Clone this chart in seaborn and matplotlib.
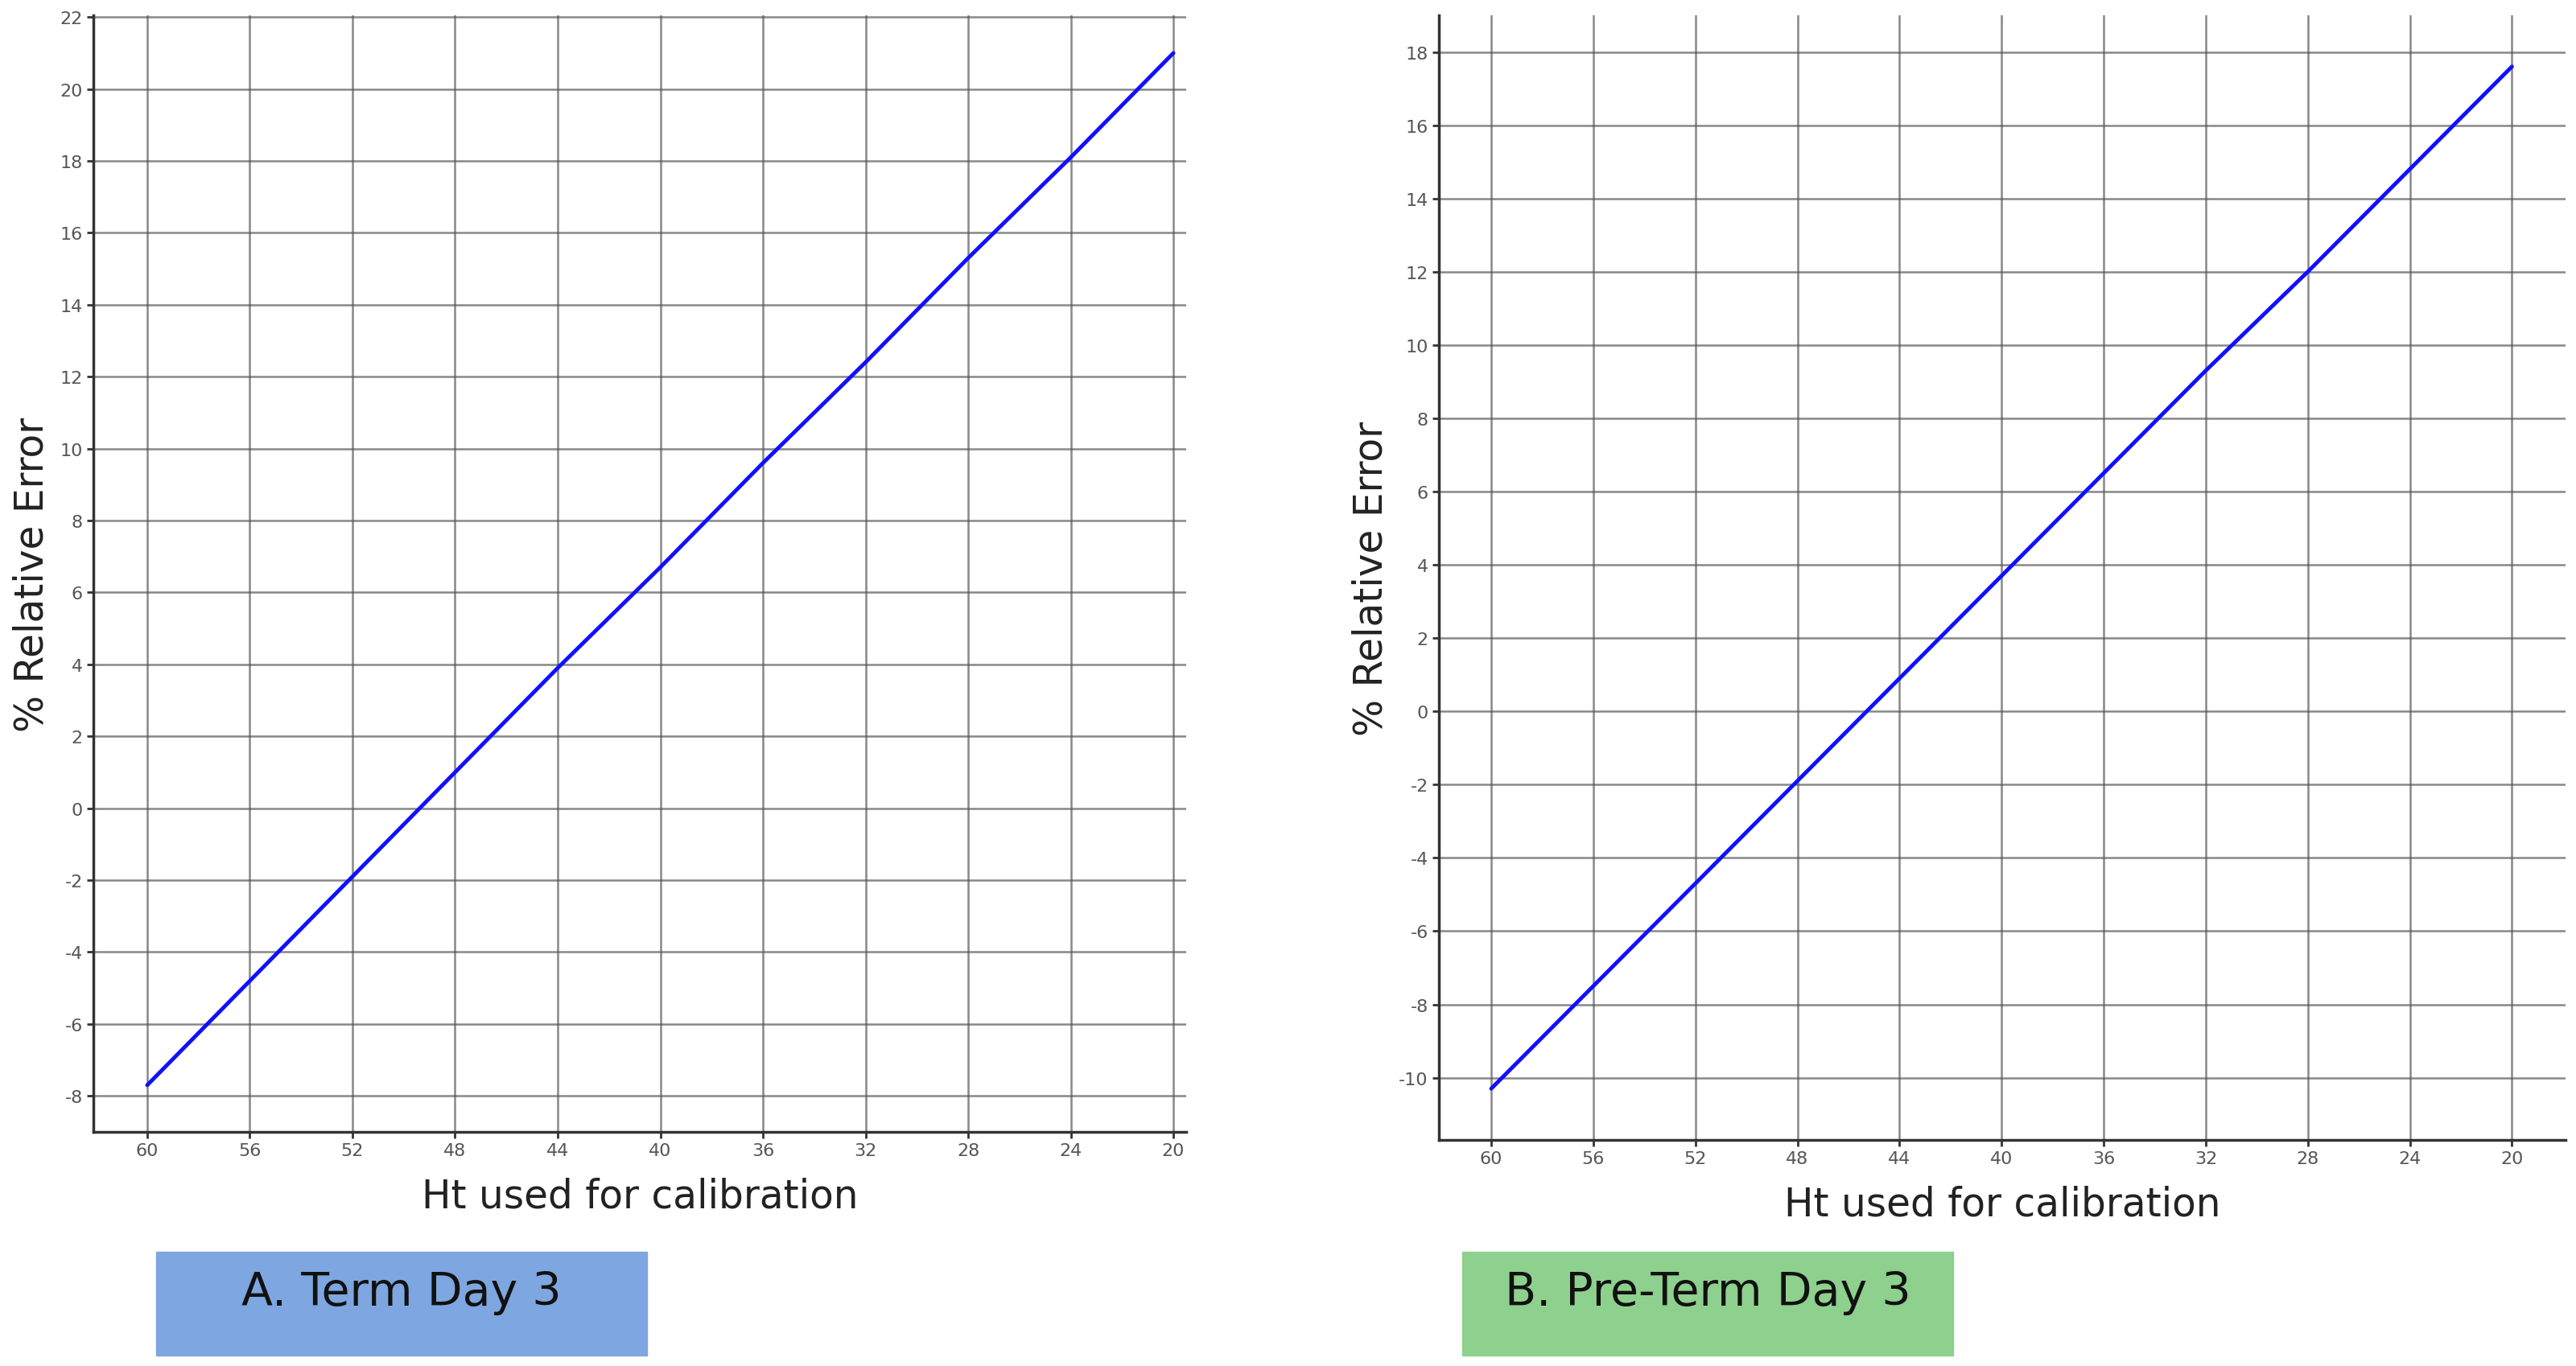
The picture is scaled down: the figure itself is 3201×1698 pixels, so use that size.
import matplotlib
matplotlib.use("Agg")
import matplotlib.pyplot as plt
import seaborn as sns
import pandas as pd
from matplotlib.patches import Rectangle

ht = [60, 56, 52, 48, 44, 40, 36, 32, 28, 24, 20]
err_term = [-7.7, -4.8, -1.9, 1.0, 3.9, 6.7, 9.6, 12.4, 15.3, 18.1, 21.0]
err_preterm = [-10.3, -7.5, -4.7, -1.9, 0.9, 3.7, 6.5, 9.3, 12.0, 14.8, 17.6]
xticks = list(range(60, 19, -4))
yticks_a = list(range(-8, 23, 2))
yticks_b = list(range(-10, 19, 2))
labels = ["A. Term Day 3", "B. Pre-Term Day 3"]
box_colors = ["#7EA6E0", "#8ED08E"]

sns.set_style("white")
plt.rcParams['font.family'] = ['DejaVu Sans']
plt.rcParams['axes.unicode_minus'] = False
fig = plt.figure(figsize=(32.01, 16.99), dpi=100)
W, H = 3201, 1699
specs = [
    (err_term, yticks_a, (116, 20, 1474, 1408), (62.1, 19.5), (-9.0, 22.05)),
    (err_preterm, yticks_b, (1788, 20, 3188, 1418), (62.05, 17.9), (-11.7, 19.0)),
]
for i, (err, yt, (x0, y0, x1, y1), xl, yl) in enumerate(specs):
    ax = fig.add_axes([x0 / W, 1 - y1 / H, (x1 - x0) / W, (y1 - y0) / H])
    df = pd.DataFrame({"ht": ht, "err": err})
    sns.lineplot(data=df, x="ht", y="err", ax=ax, color="#1010FF", lw=3.5)
    ax.set_xlim(*xl)
    ax.set_ylim(*yl)
    ax.set_xticks(xticks)
    ax.set_yticks(yt)
    ax.grid(True, color="#555555", lw=1.8, alpha=0.7)
    for s in ["top", "right"]:
        ax.spines[s].set_visible(False)
    for s in ["left", "bottom"]:
        ax.spines[s].set_color("#333333")
        ax.spines[s].set_linewidth(2.5)
    ax.tick_params(axis="both", labelsize=16, labelcolor="#555555", length=6, width=2, color="#333333", left=True, bottom=True)
    ax.set_xlabel("Ht used for calibration", fontsize=35, color="#222222", labelpad=16)
    ax.set_ylabel("% Relative Error", fontsize=35, color="#222222", labelpad=8)
    bx = [194, 1817][i]
    fig.patches.append(Rectangle((bx / W, 1 - 1686 / H), 610 / W, 129 / H,
                                 transform=fig.transFigure, color=box_colors[i]))
    fig.text((bx + 305) / W, 1 - 1608 / H, labels[i], fontsize=41, ha="center", va="center", color="#111111")

fig.savefig("out.png", dpi=100)
